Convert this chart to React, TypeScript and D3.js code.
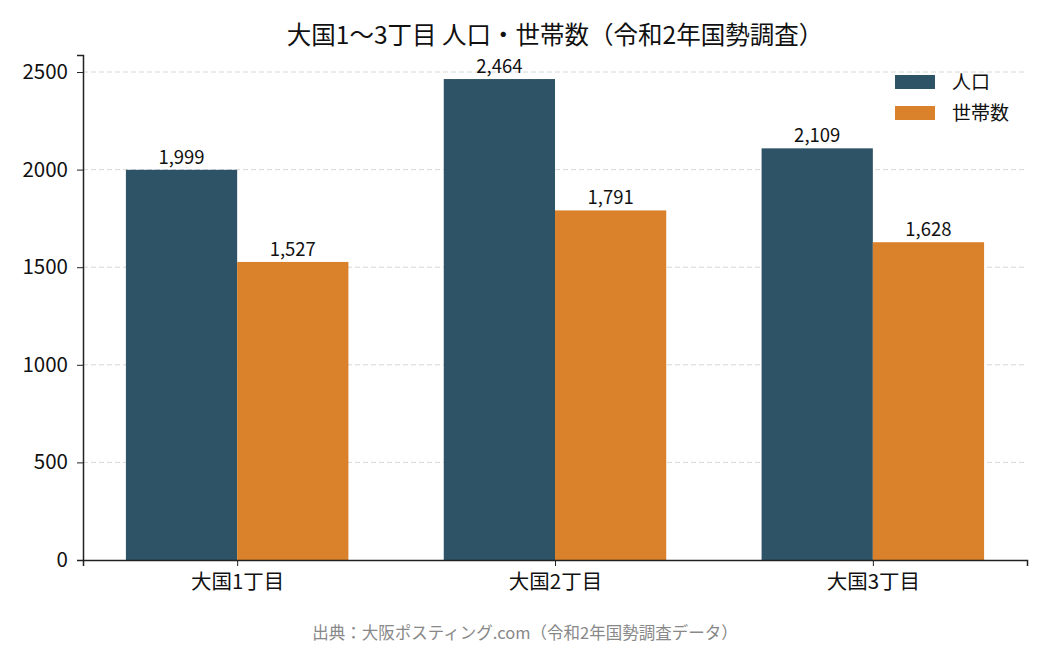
import React, { useEffect, useRef } from 'react';
import * as d3 from 'd3';

const categories = ['大国1丁目', '大国2丁目', '大国3丁目'];
const seriesNames = ['人口', '世帯数'];
const population = [1999, 2464, 2109];
const households = [1527, 1791, 1628];
const seriesColors = ['#2e5266', '#d9822b'];
const yTicks = [0, 500, 1000, 1500, 2000, 2500];

const WIDTH = 1050;
const HEIGHT = 645;
const FONT = '"Noto Sans CJK JP", "Noto Sans", sans-serif';

const App: React.FC = () => {
  const svgRef = useRef<SVGSVGElement>(null);

  useEffect(() => {
    if (!svgRef.current) return;
    d3.select(svgRef.current).selectAll('*').remove();

    const margin = { top: 55, right: 23, bottom: 85, left: 83 };
    const innerWidth = WIDTH - margin.left - margin.right;
    const innerHeight = HEIGHT - margin.top - margin.bottom;

    const svg = d3.select(svgRef.current);
    const g = svg.append('g').attr('transform', `translate(${margin.left},${margin.top})`);

    const barW = 0.35;
    const maxVal = d3.max([...population, ...households]) as number;

    // categorical positions as numbers, like matplotlib
    const xScale = d3.scaleLinear()
      .domain([-0.485, categories.length - 1 + 0.485])
      .range([0, innerWidth]);

    const yScale = d3.scaleLinear()
      .domain([0, maxVal * 1.05])
      .range([innerHeight, 0]);

    // grid lines
    g.append('g')
      .selectAll('line')
      .data(yTicks.filter(d => d > 0))
      .enter()
      .append('line')
      .attr('x1', 0)
      .attr('x2', innerWidth)
      .attr('y1', d => yScale(d))
      .attr('y2', d => yScale(d))
      .attr('stroke', '#d8d8d8')
      .attr('stroke-width', 1)
      .attr('stroke-dasharray', '5,3');

    const series = [population, households];

    series.forEach((values, si) => {
      const offset = si === 0 ? -barW : 0;
      g.selectAll(`.bar-${si}`)
        .data(values)
        .enter()
        .append('rect')
        .attr('x', (_, i) => xScale(i + offset))
        .attr('y', d => yScale(d))
        .attr('width', xScale(barW) - xScale(0))
        .attr('height', d => innerHeight - yScale(d))
        .attr('fill', seriesColors[si]);

      g.selectAll(`.label-${si}`)
        .data(values)
        .enter()
        .append('text')
        .attr('x', (_, i) => xScale(i + offset + barW / 2))
        .attr('y', d => yScale(d) - 6)
        .attr('text-anchor', 'middle')
        .style('font-family', FONT)
        .style('font-size', '18.5px')
        .style('fill', '#111')
        .text(d => d3.format(',')(d));
    });

    // Y axis
    const yAxis = g.append('g')
      .call(d3.axisLeft(yScale).tickValues(yTicks).tickSize(6).tickPadding(9).tickFormat(d => `${d}`));
    yAxis.selectAll('text')
      .style('font-family', FONT)
      .style('font-size', '20.5px')
      .style('fill', '#111');
    yAxis.selectAll('line').attr('stroke', '#222');
    yAxis.select('.domain').attr('stroke', '#222').attr('stroke-width', 1.5);

    // X axis
    const xAxis = g.append('g')
      .attr('transform', `translate(0,${innerHeight})`)
      .call(d3.axisBottom(xScale)
        .tickValues(categories.map((_, i) => i))
        .tickSize(6)
        .tickPadding(8)
        .tickFormat(d => categories[d as number]));
    xAxis.selectAll('text')
      .style('font-family', FONT)
      .style('font-size', '20.5px')
      .style('fill', '#111');
    xAxis.selectAll('line').attr('stroke', '#222');
    xAxis.select('.domain').attr('stroke', '#222').attr('stroke-width', 1.5);

    // legend
    const legend = svg.append('g').attr('transform', 'translate(895, 75)');
    seriesNames.forEach((name, i) => {
      const row = legend.append('g').attr('transform', `translate(0, ${i * 31})`);
      row.append('rect')
        .attr('width', 40)
        .attr('height', 14)
        .attr('fill', seriesColors[i]);
      row.append('text')
        .attr('x', 57)
        .attr('y', 14)
        .style('font-family', FONT)
        .style('font-size', '19px')
        .style('fill', '#111')
        .text(name);
    });

    // title
    svg.append('text')
      .attr('x', margin.left + innerWidth / 2)
      .attr('y', 44)
      .attr('text-anchor', 'middle')
      .style('font-family', FONT)
      .style('font-size', '24.5px')
      .style('fill', '#111')
      .text('大国1〜3丁目 人口・世帯数（令和2年国勢調査）');

    // source note
    svg.append('text')
      .attr('x', WIDTH / 2)
      .attr('y', 639)
      .attr('text-anchor', 'middle')
      .style('font-family', FONT)
      .style('font-size', '16.5px')
      .style('fill', '#888')
      .text('出典：大阪ポスティング.com（令和2年国勢調査データ）');
  }, []);

  return (
    <div style={{ position: 'fixed', left: 0, top: 0, background: '#fff' }}>
      <svg ref={svgRef} width={WIDTH} height={HEIGHT} style={{ display: 'block' }}></svg>
    </div>
  );
};

export default App;
